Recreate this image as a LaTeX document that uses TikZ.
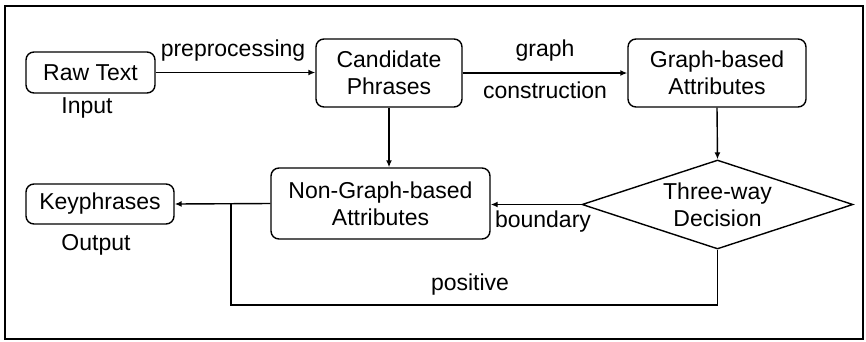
\documentclass[tikz,border=0pt]{standalone}
\usepackage{fontspec}
\setmainfont{Liberation Sans}
\usetikzlibrary{shapes.geometric,arrows.meta}
\begin{document}
\begin{tikzpicture}[x=1pt,y=-1pt,
  every node/.style={font=\fontsize{23}{27}\selectfont, inner sep=0pt, align=center},
  box/.style={draw, line width=1.4pt, rounded corners=8pt},
  lbl/.style={},
  conn/.style={line width=1.4pt, -{Latex[length=7pt,width=6pt]}},
  plain/.style={line width=1.4pt}]
\useasboundingbox (0,0) rectangle (866,341);
\draw[line width=1.5pt] (5,6) rectangle (863,339);
\node[box, minimum width=129pt, minimum height=41pt] (raw) at (90.5,72.5) {Raw Text};
\node[box, minimum width=146pt, minimum height=68pt] (cand) at (389,73) {Candidate\\Phrases};
\node[box, minimum width=178pt, minimum height=68pt] (graph) at (717,73) {Graph-based\\Attributes};
\node[box, minimum width=148pt, minimum height=40pt] (key) at (100,204) {Keyphrases};
\node[box, minimum width=219pt, minimum height=71pt] (nong) at (380.5,203.5) {Non-Graph-based\\Attributes};
\node[draw, line width=1.4pt, diamond, shape aspect=3.05, minimum width=271pt, minimum height=89pt] (dec) at (717.5,204.5) {Three-way\\Decision};
\node[lbl] (in) at (87,108) {Input};
\node[lbl] (out) at (96,245) {Output};
\node[lbl] (pre) at (233,51) {preprocessing};
\node[lbl] (gr) at (545,51) {graph};
\node[lbl] (con) at (545,90) {construction};
\node[lbl] (bd) at (543,222) {boundary};
\node[lbl] (pos) at (470,285) {positive};
\coordinate (j) at (231,204);
\coordinate (b) at (231,305);
\draw[conn] (raw.east) -- (raw.east -| cand.west);
\draw[conn] (cand.east) -- (cand.east -| graph.west);
\draw[conn] (cand.south) -- (cand.south |- nong.north);
\draw[conn] (graph.south) -- (dec.north);
\draw[conn] (dec.west) -- (dec.west -| nong.east);
\draw[conn] (nong.west) -- (key.east);
\draw[plain] (dec.south) |- (b) -- (j);
\end{tikzpicture}
\end{document}
